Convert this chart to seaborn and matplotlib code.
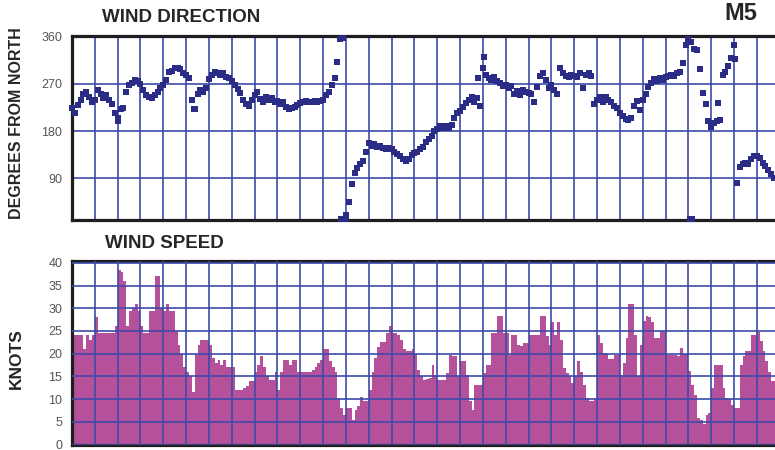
import numpy as np
import pandas as pd
import matplotlib
matplotlib.use("Agg")
import matplotlib.pyplot as plt
import seaborn as sns

# three-hourly readings (8 per day) over the month
wind_dir = [
    225, 215, 230, 240, 250, 255, 245, 236,
    240, 258, 250, 244, 249, 240, 232, 215,
    205, 222, 225, 255, 268, 272, 277, 275,
    270, 258, 249, 245, 243, 248, 255, 262,
    268, 278, 292, 295, 300, 300, 298, 290,
    287, 282, 240, 222, 250, 258, 255, 262,
    280, 287, 292, 290, 288, 290, 284, 282,
    276, 268, 260, 252, 240, 232, 228, 240,
    248, 255, 242, 236, 246, 240, 244, 236,
    238, 232, 236, 226, 222, 225, 227, 230,
    234, 236, 238, 236, 236, 238, 236, 238,
    240, 248, 255, 268, 282, 312, 356, 358,
    20, 45, 80, 100, 110, 118, 124, 140,
    158, 152, 156, 150, 152, 148, 145, 148,
    145, 140, 136, 132, 126, 124, 127, 134,
    138, 140, 145, 150, 160, 165, 170, 180,
    185, 190, 186, 190, 186, 192, 205, 214,
    218, 226, 234, 240, 246, 236, 244, 228,
    300, 288, 282, 278, 284, 276, 272, 266,
    268, 262, 266, 250, 256, 248, 258, 254,
    252, 250, 236, 265, 285, 290, 278, 262,
    268, 258, 250, 300, 290, 286, 284, 288,
    286, 284, 290, 262, 288, 290, 286, 232,
    240, 246, 236, 246, 240, 236, 228, 224,
    215, 208, 204, 202, 206, 228, 238, 220,
    240, 250, 265, 272, 280, 276, 282, 278,
    284, 286, 288, 286, 290, 292, 310, 345,
    355, 350, 336, 334, 298, 252, 232, 200,
    188, 195, 200, 202, 288, 292, 305, 320,
    345, 82, 112, 118, 120, 118, 126, 132,
    132, 128, 120, 114, 106, 98, 90,
]

wind_speed = [
    24, 24, 24, 24, 21, 24, 23, 24,
    28, 24.5, 24.5, 24.5, 24.5, 24.5, 24.5, 26,
    38.5, 38, 36, 26, 29.5, 30, 31, 29.5,
    26, 24.5, 24.5, 29.5, 29.5, 37, 37, 30,
    29.5, 31, 29.5, 29.5, 25, 22, 20, 17,
    16, 15, 11.5, 20, 22, 23, 23, 23,
    22, 19, 18, 18.5, 17.5, 18.5, 17, 17,
    17, 12, 12, 12, 12.5, 12.8, 14, 14,
    16, 17.5, 19.4, 17, 15, 14.3, 14.3, 16,
    12, 16, 18.5, 18.5, 17.5, 18.5, 18.5, 16,
    16, 16, 16, 16, 16.5, 17, 18, 18.5,
    21, 21, 18.3, 17, 16, 10, 8, 6.5,
    8, 8, 5.5, 7.5, 8.5, 10.5, 9.5, 9.5,
    12, 16, 19, 21.5, 22.5, 22.5, 24.5, 26,
    24.5, 24.5, 24, 23, 21, 20.5, 20.5, 21,
    20, 16.5, 15, 14.3, 14.5, 14.7, 17.5, 15.4,
    14.3, 14.3, 14.3, 15.8, 19.8, 19.5, 19.5, 15,
    18.3, 18.3, 15.4, 9.5, 7.5, 13, 13, 13,
    15.8, 17.6, 17.6, 24.5, 24.5, 28.2, 28.2, 24.5,
    24.5, 19.8, 24.2, 24, 22, 21.6, 22.4, 22.4,
    24.2, 24.2, 24.2, 24.2, 28.2, 28.2, 23.8, 22,
    27, 24, 27, 23, 16.8, 15.8, 15, 13.6,
    15, 18.3, 16, 13.2, 10.3, 9.5, 9.5, 10,
    24.2, 22.4, 20.1, 20, 18.8, 18.8, 19.8, 19.8,
    15.4, 18, 23.4, 31, 31, 24.2, 15, 22,
    27.1, 28.2, 28, 27, 23.4, 23.4, 24.9, 24.9,
    19.8, 19.8, 19.8, 19.8, 19.5, 21.2, 20, 20,
    16.1, 13, 10.9, 5.9, 5.5, 4.5, 6.6, 7,
    12.5, 17.6, 17.6, 17.6, 12.5, 10.3, 10, 8.8,
    8.1, 8.1, 17.6, 19.4, 20.5, 20.5, 24.2, 24.2,
    24.8, 22.7, 20.5, 18.3, 16, 14, 14,
]

# odd readings in between the regular samples
extra_dir_day = [2.0, 5.35, 11.80, 11.90, 12.00, 17.80, 18.05, 27.05, 27.15, 28.30, 29.05]
extra_dir_deg = [200, 222, 12, 12, 12, 281, 322, 12, 12, 233, 318]

dir_ticks = [90, 180, 270, 360]
speed_ticks = [0, 5, 10, 15, 20, 25, 30, 35, 40]

GRID = '#3d4aa8'
DOT = '#2b2c85'
BAR = '#b5519b'

sns.set_style("white")
plt.rcParams['font.family'] = ['Liberation Sans', 'DejaVu Sans']

dir_day = np.arange(len(wind_dir)) / 8
speed_day = (np.arange(len(wind_speed)) + 0.5) / 8

direction = pd.DataFrame({
    'day': np.concatenate([dir_day, extra_dir_day]),
    'deg': np.concatenate([wind_dir, extra_dir_deg]),
})
speed = pd.DataFrame({'day': speed_day, 'knots': np.asarray(wind_speed, dtype=float)})

fig = plt.figure(figsize=(7.75, 4.5), dpi=100)
ax1 = fig.add_axes([72 / 775, 1 - 220 / 450, 707.7 / 775, 184 / 450])
ax2 = fig.add_axes([72 / 775, 1 - 444.5 / 450, 707.7 / 775, 183.5 / 450])

# wind direction dots
sns.scatterplot(data=direction, x='day', y='deg', marker='s', s=20,
                color=DOT, linewidth=0, ax=ax1, clip_on=False, zorder=3)
ax1.set_ylim(10.5, 361.5)
ax1.set_yticks(dir_ticks)

# wind speed as a stepped histogram
sns.histplot(data=speed, x='day', weights='knots', binwidth=0.125,
             binrange=(0, len(wind_speed) / 8), element='step', fill=True,
             color=BAR, alpha=1, linewidth=0, ax=ax2)
ax2.set_ylim(0, 40.4)
ax2.set_yticks(speed_ticks)
ax2.set_axisbelow(False)

for ax in (ax1, ax2):
    ax.set_xlim(0, 31)
    ax.set_xticks(np.arange(1, 31))
    ax.set_xlabel('')
    ax.set_ylabel('')
    ax.grid(True, color=GRID, linewidth=1.2)
    ax.tick_params(axis='x', length=0, labelbottom=False)
    ax.tick_params(axis='y', length=6, width=1, color='#666666', labelsize=9,
                   labelcolor='#555555', pad=1)
    for side in ('left', 'top', 'bottom'):
        ax.spines[side].set_linewidth(2.3)
        ax.spines[side].set_color('#1e1e1e')
    ax.spines['right'].set_visible(False)
ax1.set_axisbelow(True)

fig.text(102 / 775, 1 - 18 / 450, 'WIND DIRECTION', fontsize=13.5, weight='bold',
         ha='left', va='center')
fig.text(105 / 775, 1 - 243 / 450, 'WIND SPEED', fontsize=13.5, weight='bold',
         ha='left', va='center')
fig.text(724 / 775, 1 - 14 / 450, 'M5', fontsize=17, weight='bold',
         ha='left', va='center')
fig.text(17 / 775, 1 - 123 / 450, 'DEGREES FROM NORTH', fontsize=11.5, weight='bold',
         rotation=90, ha='center', va='center')
fig.text(16 / 775, 1 - 359 / 450, 'KNOTS', fontsize=12.5, weight='bold',
         rotation=90, ha='center', va='center')

fig.savefig('out.png', dpi=100)
